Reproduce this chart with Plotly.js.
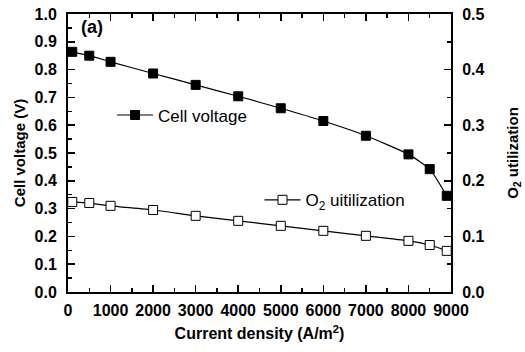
<!DOCTYPE html>
<html><head><meta charset="utf-8">
<script src="https://cdn.plot.ly/plotly-3.0.1.min.js"></script>
<style>html,body{margin:0;padding:0;background:#fff;}#chart{width:525px;height:352px;}</style>
</head><body><div id="chart"></div>
<script>
const currentDensity = [100, 500, 1000, 2000, 3000, 4000, 5000, 6000, 7000, 8000, 8500, 8900];
const cellVoltage = [0.864, 0.850, 0.828, 0.786, 0.745, 0.704, 0.661, 0.615, 0.562, 0.495, 0.442, 0.346];
const o2Utilization = [0.162, 0.160, 0.155, 0.1475, 0.137, 0.128, 0.119, 0.110, 0.101, 0.092, 0.0845, 0.074];
const xTicks = [0, 1000, 2000, 3000, 4000, 5000, 6000, 7000, 8000, 9000];
const yTicks = [0, 0.1, 0.2, 0.3, 0.4, 0.5, 0.6, 0.7, 0.8, 0.9, 1.0];
const y2Ticks = [0, 0.1, 0.2, 0.3, 0.4, 0.5];

const F = "Liberation Sans, Arial, sans-serif";
const bold = v => "<b>" + v + "</b>";
const traces = [
  {x: currentDensity, y: cellVoltage, name: "Cell voltage", type: "scatter", mode: "lines+markers",
   line: {color: "#000", width: 1.2, shape: "spline", smoothing: 0.5},
   marker: {symbol: "square", size: 9, color: "#000", line: {color: "#000", width: 1}},
   legend: "legend"},
  {x: currentDensity, y: o2Utilization, name: "O<sub>2</sub> uitilization", type: "scatter", mode: "lines+markers",
   yaxis: "y2",
   line: {color: "#000", width: 1.2, shape: "spline", smoothing: 0.5},
   marker: {symbol: "square", size: 9, color: "#fff", line: {color: "#000", width: 1}},
   legend: "legend2"}
];

const tickFont = {family: F, size: 16, color: "#000", weight: 700};
const titleFont = s => ({family: F, size: s, color: "#000", weight: 700});
const layout = {
  width: 525, height: 352,
  margin: {l: 68, r: 74, t: 14, b: 60},
  paper_bgcolor: "#fff", plot_bgcolor: "#fff",
  showlegend: true,
  xaxis: {range: [0, 9000], tickvals: xTicks, ticktext: xTicks.map(v => bold(v)),
    ticks: "inside", ticklen: 7, tickwidth: 1.5, tickcolor: "#000",
    minor: {dtick: 500, ticks: "inside", ticklen: 4, tickwidth: 1.5, tickcolor: "#000"},
    showline: true, linecolor: "#000", linewidth: 2, mirror: "ticks", showgrid: false, zeroline: false,
    tickfont: tickFont, ticklabelstandoff: 3,
    title: {text: "<b>Current density (A/m<sup>2</sup>)</b>", font: titleFont(16), standoff: 10}},
  yaxis: {range: [0, 1.0], tickvals: yTicks, ticktext: yTicks.map(v => bold(v.toFixed(1))),
    ticks: "inside", ticklen: 7, tickwidth: 1.5, tickcolor: "#000",
    minor: {dtick: 0.05, ticks: "inside", ticklen: 4, tickwidth: 1.5, tickcolor: "#000"},
    showline: true, linecolor: "#000", linewidth: 2, showgrid: false, zeroline: false,
    tickfont: tickFont, ticklabelstandoff: 6,
    title: {text: "<b>Cell voltage (V)</b>", font: titleFont(15), standoff: 5}},
  yaxis2: {range: [0, 0.5], overlaying: "y", side: "right",
    tickvals: y2Ticks, ticktext: y2Ticks.map(v => bold(v.toFixed(1))),
    ticks: "inside", ticklen: 7, tickwidth: 1.5, tickcolor: "#000",
    minor: {dtick: 0.05, ticks: "inside", ticklen: 4, tickwidth: 1.5, tickcolor: "#000"},
    showline: true, linecolor: "#000", linewidth: 2, showgrid: false, zeroline: false,
    tickfont: tickFont, ticklabelstandoff: 6,
    title: {text: "<b>O<sub>2</sub> utilization</b>", font: titleFont(15), standoff: 24}},
  legend: {x: 0.115, y: 0.635, xref: "paper", yref: "paper", xanchor: "left", yanchor: "middle",
    itemwidth: 36, bgcolor: "rgba(0,0,0,0)", borderwidth: 0, font: {family: F, size: 17, color: "#000"}},
  legend2: {x: 0.50, y: 0.33, xref: "paper", yref: "paper", xanchor: "left", yanchor: "middle",
    itemwidth: 36, bgcolor: "rgba(0,0,0,0)", borderwidth: 0, font: {family: F, size: 17, color: "#000"}},
  annotations: [{text: "<b>(a)</b>", x: 0.03, y: 0.955, xref: "paper", yref: "paper", xanchor: "left", yanchor: "middle",
    showarrow: false, font: {family: F, size: 18, color: "#000"}}]
};
Plotly.newPlot("chart", traces, layout, {displayModeBar: false, staticPlot: true});
</script></body></html>
